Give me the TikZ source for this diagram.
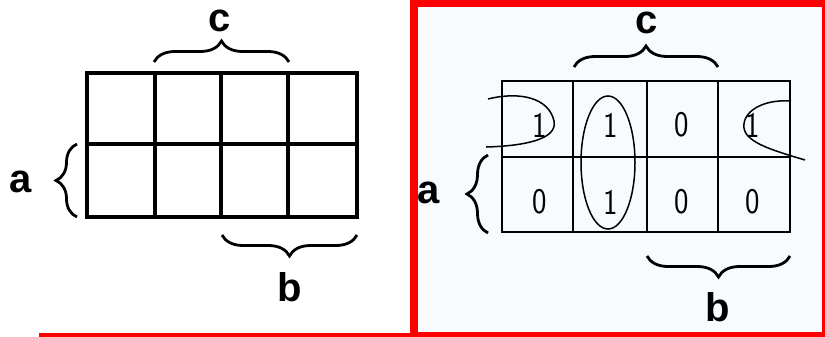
\documentclass[tikz,border=0pt]{standalone}
\usepackage{fontspec}
\setmainfont{Liberation Sans}
\usepackage{xcolor}
\usetikzlibrary{decorations.pathreplacing}
\definecolor{framered}{RGB}{255,0,0}
\definecolor{paper}{RGB}{247,251,253}

\begin{document}
\begin{tikzpicture}[x=1pt, y=-1pt,
  cellline/.style={line width=3.4pt, line cap=rect},
  curly/.style={decorate, decoration={brace, amplitude=21pt}, line width=2.8pt},
  varname/.style={font=\fontsize{40}{40}\selectfont\bfseries, inner sep=0pt},
  digit/.style={font=\fontsize{36}{36}\selectfont\sffamily, inner sep=0pt, xscale=0.85},
  ring/.style={line width=1.5pt}]
  \useasboundingbox (0,0) rectangle (825,337);
  % ============= Panel 1: empty map =============
  \fill[white] (0,0) rectangle (410,337);
  \draw[framered, line width=4pt] (39,335) -- (410,335);
  \draw[cellline] (87,73) rectangle (357,217);
  \draw[cellline] (87,144) -- (357,144);
  \foreach \xc in {155,221,288}
    \draw[cellline] (\xc,73) -- (\xc,217);
  \draw[curly] (154,62) -- (289,62);
  \draw[curly] (77,217) -- (77,144);
  \draw[curly] (357,235) -- (222,235);
  \node[varname] (cleft) at (220,21)  {c};
  \node[varname] (aleft) at (21,182)  {a};
  \node[varname] (bleft) at (290,287) {b};
  % ============= Panel 2: filled map =============
  \fill[framered] (410,0) rectangle (825,337);
  \fill[paper] (418,7) rectangle (822,332);
  \begin{scope}[cellline/.append style={line width=2.8pt}]
    \draw[cellline] (502,81) rectangle (790,232);
    \draw[cellline] (502,157) -- (790,157);
    \foreach \xc in {573,647,718}
      \draw[cellline] (\xc,81) -- (\xc,232);
  \end{scope}
  \draw[curly] (574,67) -- (718,67);
  \draw[curly] (488,233) -- (488,155);
  \draw[curly] (790,256) -- (647,256);
  \node[varname] (cright) at (647,23)  {c};
  \node[varname] (aright) at (429,193) {a};
  \node[varname] (bright) at (718,307) {b};
  % cell values, row by row
  \foreach \dval [count=\k from 0] in {1,1,0,1,0,1,0,0}
    \node[digit] (d\k) at ({540+71*mod(\k,4)},{125+77*int(\k/4)}) {\dval};
  % groups of ones
  \draw[ring] (608,162.5) ellipse [x radius=27, y radius=66.5];
  \draw[ring] (488,99) .. controls (520,91) and (549,98) .. (554,121)
              .. controls (558,140) and (522,146) .. (486,147);
  \draw[ring] (791,101) .. controls (762,99) and (742,112) .. (744,128)
              .. controls (746,143) and (775,151) .. (805,160);
\end{tikzpicture}
\end{document}
